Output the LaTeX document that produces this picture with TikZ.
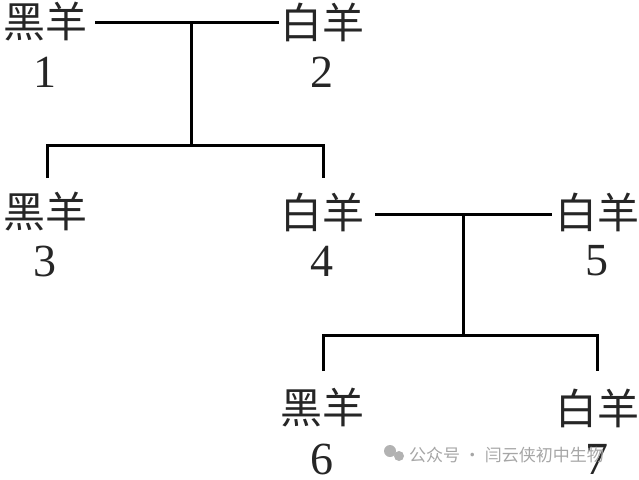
\documentclass[tikz,border=0pt]{standalone}
\usepackage{fontspec}
\newfontfamily\cjk{Noto Sans CJK SC}
\newfontfamily\digitfont{Liberation Serif}
\begin{document}
\begin{tikzpicture}[x=1pt,y=-1pt,
  lbl/.style={font=\cjk\fontsize{42}{44}\selectfont, text=black!85, inner sep=0pt, anchor=center},
  num/.style={font=\digitfont\fontsize{46}{48}\selectfont, text=black!85, inner sep=0pt, anchor=center},
  ln/.style={line width=3pt, black},
  wm/.style={font=\cjk\fontsize{17}{18}\selectfont, text=black!35, inner sep=0pt, anchor=west}]
\useasboundingbox (0,0) rectangle (639,479);
% labels
\node[lbl] (s1) at (45,22) {黑羊};
\node[num] (n1) at (45,72) {1};
\node[lbl] (s2) at (322,22) {白羊};
\node[num] (n2) at (322,72) {2};
\node[lbl] (s3) at (45,212) {黑羊};
\node[num] (n3) at (45,261) {3};
\node[lbl] (s4) at (322,212) {白羊};
\node[num] (n4) at (322,261) {4};
\node[lbl] (s5) at (597,212) {白羊};
\node[num] (n5) at (597,261) {5};
\node[lbl] (s6) at (322,408) {黑羊};
\node[num] (n6) at (322,459) {6};
\node[lbl] (s7) at (597,408) {白羊};
\node[num] (n7) at (597,459) {7};
% coordinates
\coordinate (a1) at (95,22);
\coordinate (a2) at (279,22);
\coordinate (m1) at (191,22);
\coordinate (b1) at (191,145);
\coordinate (c3) at (47,145);
\coordinate (c4) at (323,145);
\coordinate (d3) at (47,178);
\coordinate (d4) at (323,178);
\coordinate (e4) at (375,214);
\coordinate (e5) at (552,214);
\coordinate (m2) at (463,214);
\coordinate (b2) at (463,335);
\coordinate (c6) at (323,335);
\coordinate (c7) at (597,335);
\coordinate (d6) at (323,371);
\coordinate (d7) at (597,371);
% lines
\draw[ln] (a1) -- (a2);
\draw[ln] (m1) -- (b1);
\draw[ln] (d3) -- (c3) -- (c4) -- (d4);
\draw[ln] (e4) -- (e5);
\draw[ln] (m2) -- (b2);
\draw[ln] (d6) -- (c6) -- (c7) -- (d7);
% watermark
\fill[black!30] (390,451) circle (6);
\fill[black!30] (399,456) circle (5);
\node[wm] (wm) at (409,455) {公众号 · 闫云侠初中生物};
\end{tikzpicture}
\end{document}
